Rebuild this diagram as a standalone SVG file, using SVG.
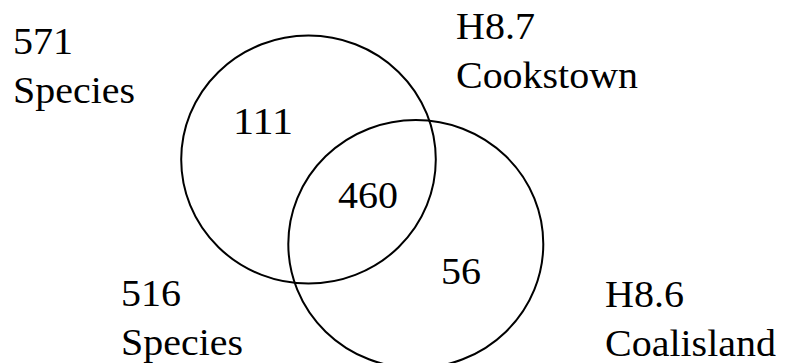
<svg xmlns="http://www.w3.org/2000/svg" width="789" height="363" viewBox="0 0 789 363">
<style>
.c{fill:none;stroke:#000;stroke-width:2}
text{font-family:'Liberation Serif','DejaVu Serif',serif;font-size:38px;fill:#000}
</style>
<rect width="789" height="363" fill="#fff"/>
<g id="connectors"></g>
<g id="set-cookstown">
<ellipse class="c" cx="308.5" cy="159.6" rx="127.3" ry="124"/>
<text x="13" y="54" textLength="60" lengthAdjust="spacingAndGlyphs">571</text>
<text x="13" y="103" textLength="122" lengthAdjust="spacingAndGlyphs">Species</text>
<text x="456" y="39" textLength="79" lengthAdjust="spacingAndGlyphs">H8.7</text>
<text x="456" y="88" textLength="182" lengthAdjust="spacingAndGlyphs">Cookstown</text>
</g>
<g id="set-coalisland">
<ellipse class="c" cx="415.8" cy="244" rx="127.5" ry="124"/>
<text x="121" y="306" textLength="60" lengthAdjust="spacingAndGlyphs">516</text>
<text x="121" y="355" textLength="122" lengthAdjust="spacingAndGlyphs">Species</text>
<text x="605" y="307" textLength="79" lengthAdjust="spacingAndGlyphs">H8.6</text>
<text x="605" y="356" textLength="171" lengthAdjust="spacingAndGlyphs">Coalisland</text>
</g>
<g id="region-only-cookstown"><text x="233" y="134" textLength="60" lengthAdjust="spacingAndGlyphs">111</text></g>
<g id="region-both"><text x="338" y="208" textLength="60" lengthAdjust="spacingAndGlyphs">460</text></g>
<g id="region-only-coalisland"><text x="441" y="284" textLength="40" lengthAdjust="spacingAndGlyphs">56</text></g>
</svg>
